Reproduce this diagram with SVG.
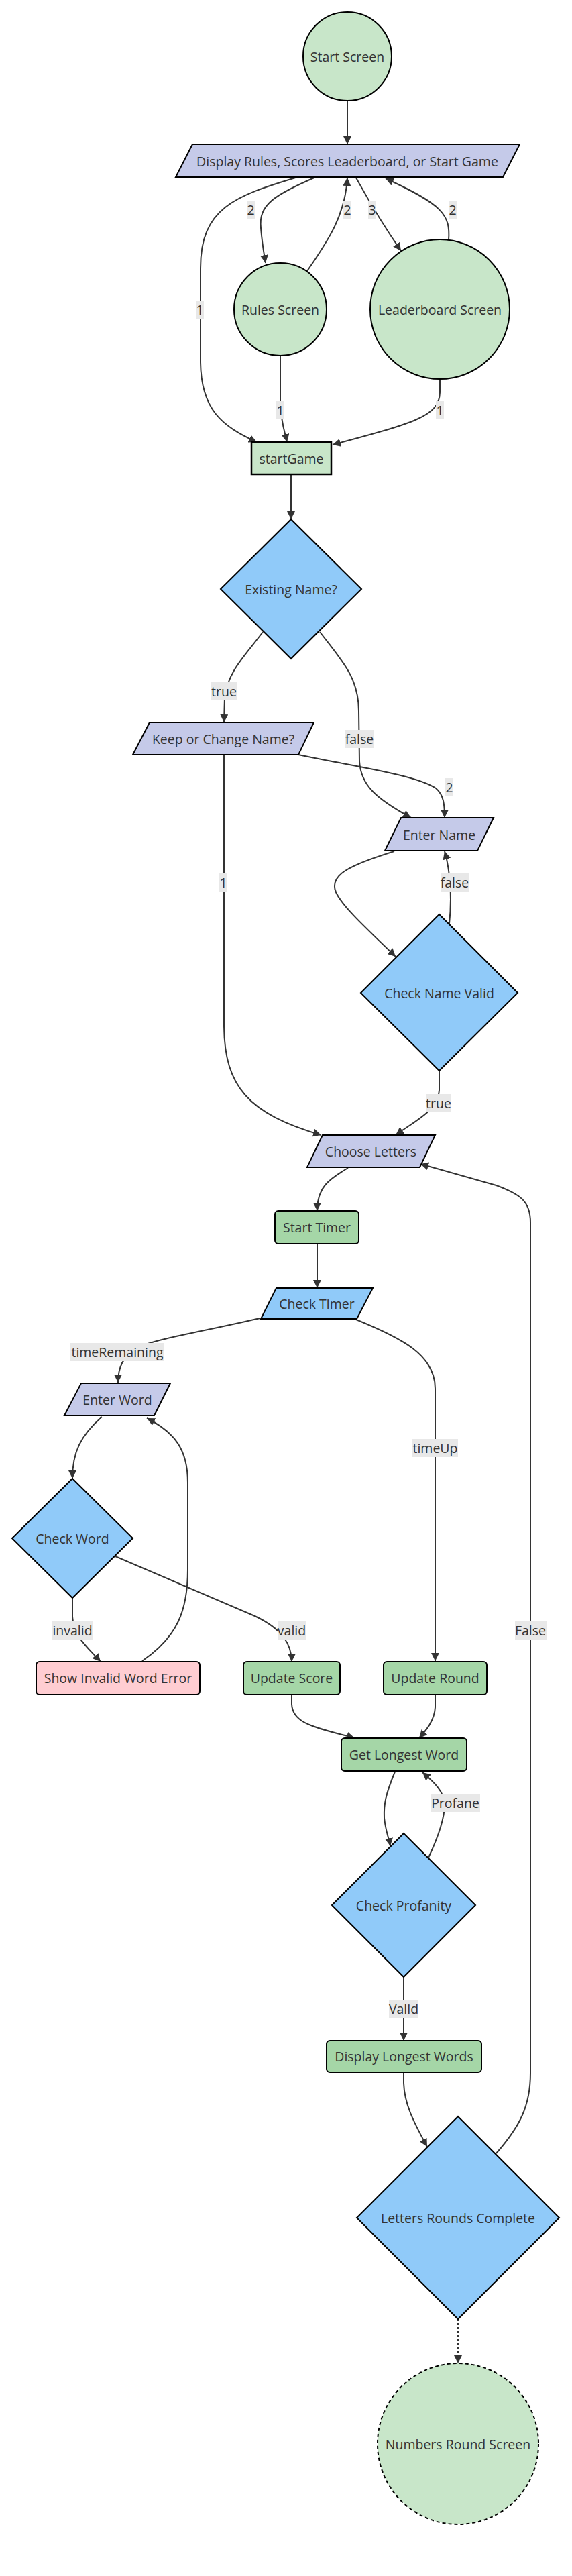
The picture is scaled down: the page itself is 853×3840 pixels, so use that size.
<svg xmlns="http://www.w3.org/2000/svg" width="853" height="3840" viewBox="0 0 853 3840">
<style>
text{font-family:"Open Sans","Noto Sans","Liberation Sans",sans-serif;font-size:19.5px;fill:#333;text-anchor:middle;dominant-baseline:central}
.e{fill:none;stroke:#333;stroke-width:2;marker-end:url(#arr)}
.dot{stroke-dasharray:3 3}
.lb{fill:#e8e8e8}
.n{stroke:#000;stroke-width:2}
.circ{fill:#C8E6C9}
.io{fill:#C5CAE9}
.dec{fill:#90CAF9}
.proc{fill:#A5D6A7}
.err{fill:#FFCDD2}
</style>
<defs>
<marker id="arr" viewBox="0 0 10 10" refX="10" refY="5" markerUnits="userSpaceOnUse" markerWidth="12" markerHeight="12" orient="auto">
<path d="M0,0 L10,5 L0,10 z" fill="#333"/>
</marker>
</defs>
<rect width="853" height="3840" fill="#fff"/>
<g id="connectors">
<path class="e" d="M518,150 L518,215"/>
<path class="e" d="M444,264 C350,292 299,310 299,400 L299,540 C300,610 330,635 383,659"/>
<path class="e" d="M471,264 C410,290 385,305 389,340 C391,365 394,380 396,392"/>
<path class="e" d="M458,404 C490,358 515,320 518,265"/>
<path class="e" d="M531,265 C545,290 562,322 598,374"/>
<path class="e" d="M669,358 C672,320 660,305 575,266"/>
<path class="e" d="M418,530 L418,600 C419,630 425,645 428,659"/>
<path class="e" d="M656,566 L656,585 C655,620 620,630 496,663"/>
<path class="e" d="M434,707 L434,774"/>
<path class="e" d="M392,942 C365,978 340,1000 335,1040 L334,1077"/>
<path class="e" d="M477,942 C510,985 535,1010 535,1060 L536,1135 C538,1170 560,1190 613,1219"/>
<path class="e" d="M445,1125 C530,1143 620,1155 650,1175 C662,1185 663,1200 663,1219"/>
<path class="e" d="M334,1125 L334,1530 C335,1620 370,1660 479,1692"/>
<path class="e" d="M588,1269 C520,1290 490,1305 501,1330 C510,1350 540,1378 590,1426"/>
<path class="e" d="M670,1377 C674,1340 672,1300 663,1269"/>
<path class="e" d="M655,1596 L655,1625 C654,1655 620,1670 590,1692"/>
<path class="e" d="M519,1741 C490,1758 473,1770 473,1805"/>
<path class="e" d="M473,1854 L473,1920"/>
<path class="e" d="M388,1965 C300,1985 240,1995 215,2005 C185,2018 176,2035 176,2061"/>
<path class="e" d="M531,1967 C600,1995 649,2020 649,2070 L649,2476"/>
<path class="e" d="M152,2112 C120,2140 108,2165 108,2204"/>
<path class="e" d="M108,2382 L108,2410 C110,2440 130,2455 150,2477"/>
<path class="e" d="M212,2476 C265,2440 280,2400 280,2340 L280,2210 C280,2160 260,2135 219,2114"/>
<path class="e" d="M172,2320 L380,2409 C420,2428 435,2450 435,2477"/>
<path class="e" d="M435,2526 L435,2540 C436,2570 470,2575 529,2591"/>
<path class="e" d="M649,2526 L649,2545 C648,2565 635,2580 625,2591"/>
<path class="e" d="M589,2641 C575,2675 572,2690 573,2710 C575,2730 580,2740 582,2752"/>
<path class="e" d="M639,2769 C655,2735 663,2710 663,2690 C663,2670 645,2655 630,2642"/>
<path class="e" d="M602,2947 L602,3042"/>
<path class="e" d="M602,3089 L602,3105 C603,3135 615,3160 637,3200"/>
<path class="e" d="M740,3210 C775,3170 791,3140 791,3090 L791,1822 C791,1790 775,1780 740,1767 L627,1735"/>
<path class="e dot" d="M683,3457 L683,3523"/>
<g id="edge-labels">
<rect class="lb" x="368" y="299" width="12" height="27"/><text x="374" y="312">2</text>
<rect class="lb" x="512" y="299" width="12" height="27"/><text x="518" y="312">2</text>
<rect class="lb" x="549" y="299" width="12" height="27"/><text x="555" y="312">3</text>
<rect class="lb" x="669" y="299" width="12" height="27"/><text x="675" y="312">2</text>
<rect class="lb" x="292" y="448" width="12" height="27"/><text x="298" y="461">1</text>
<rect class="lb" x="412" y="598" width="12" height="27"/><text x="418" y="611">1</text>
<rect class="lb" x="650" y="598" width="12" height="27"/><text x="656" y="611">1</text>
<rect class="lb" x="315" y="1017" width="38" height="27"/><text x="334" y="1030">true</text>
<rect class="lb" x="514" y="1088" width="43" height="27"/><text x="536" y="1101">false</text>
<rect class="lb" x="664" y="1160" width="12" height="27"/><text x="670" y="1173">2</text>
<rect class="lb" x="327" y="1302" width="12" height="27"/><text x="333" y="1315">1</text>
<rect class="lb" x="657" y="1302" width="43" height="27"/><text x="678" y="1315">false</text>
<rect class="lb" x="635" y="1631" width="38" height="27"/><text x="654" y="1644">true</text>
<rect class="lb" x="105" y="2002" width="140" height="27"/><text x="175" y="2015">timeRemaining</text>
<rect class="lb" x="615" y="2145" width="68" height="27"/><text x="649" y="2158">timeUp</text>
<rect class="lb" x="78" y="2417" width="60" height="27"/><text x="108" y="2430">invalid</text>
<rect class="lb" x="414" y="2417" width="43" height="27"/><text x="435" y="2430">valid</text>
<rect class="lb" x="643" y="2674" width="73" height="27"/><text x="679" y="2687">Profane</text>
<rect class="lb" x="580" y="2981" width="44" height="27"/><text x="602" y="2994">Valid</text>
<rect class="lb" x="768" y="2417" width="47" height="27"/><text x="791" y="2430">False</text>
</g>
</g>
<g id="start-screen"><circle class="n circ" cx="518" cy="84" r="66"/><text x="518" y="84">Start Screen</text></g>
<g id="display-menu"><polygon class="n io" points="287,215 775,215 750,264 262,264"/><text x="518" y="240">Display Rules, Scores Leaderboard, or Start Game</text></g>
<g id="rules-screen"><circle class="n circ" cx="418" cy="461" r="69"/><text x="418" y="461">Rules Screen</text></g>
<g id="leaderboard-screen"><circle class="n circ" cx="656" cy="461" r="104"/><text x="656" y="461">Leaderboard Screen</text></g>
<g id="start-game"><rect class="n circ" x="375" y="659" width="119" height="48" style="stroke-width:2.5"/><text x="434.5" y="683">startGame</text></g>
<g id="existing-name"><polygon class="n dec" points="434,774 539,878 434,982 329,878"/><text x="434" y="878">Existing Name?</text></g>
<g id="keep-or-change"><polygon class="n io" points="223,1077 468,1077 445,1125 198,1125"/><text x="333" y="1101">Keep or Change Name?</text></g>
<g id="enter-name"><polygon class="n io" points="598,1219 736,1219 712,1268 574,1268"/><text x="655" y="1244">Enter Name</text></g>
<g id="check-name-valid"><polygon class="n dec" points="655,1363 772,1480 655,1596 538,1480"/><text x="655" y="1480">Check Name Valid</text></g>
<g id="choose-letters"><polygon class="n io" points="481,1692 649,1692 626,1740 458,1740"/><text x="553" y="1716">Choose Letters</text></g>
<g id="start-timer"><rect class="n proc" x="410" y="1805" width="125" height="49" rx="5"/><text x="472.5" y="1829.5">Start Timer</text></g>
<g id="check-timer"><polygon class="n dec" points="412,1920 556,1920 532,1966 389,1966"/><text x="472.5" y="1943">Check Timer</text></g>
<g id="enter-word"><polygon class="n io" points="121,2062 254,2062 230,2110 96,2110"/><text x="175" y="2086">Enter Word</text></g>
<g id="check-word"><polygon class="n dec" points="108,2204 198,2293 108,2382 18,2293"/><text x="108" y="2293">Check Word</text></g>
<g id="show-invalid"><rect class="n err" x="54" y="2477" width="244" height="49" rx="5"/><text x="176" y="2501.5">Show Invalid Word Error</text></g>
<g id="update-score"><rect class="n proc" x="363" y="2477" width="144" height="49" rx="5"/><text x="435" y="2501.5">Update Score</text></g>
<g id="update-round"><rect class="n proc" x="572" y="2477" width="154" height="49" rx="5"/><text x="649" y="2501.5">Update Round</text></g>
<g id="get-longest-word"><rect class="n proc" x="509" y="2591" width="187" height="49" rx="5"/><text x="602.5" y="2615.5">Get Longest Word</text></g>
<g id="check-profanity"><polygon class="n dec" points="602,2733 709,2840 602,2947 495,2840"/><text x="602" y="2840">Check Profanity</text></g>
<g id="display-longest-words"><rect class="n proc" x="487" y="3042" width="231" height="47" rx="5"/><text x="602.5" y="3065.5">Display Longest Words</text></g>
<g id="letters-rounds-complete"><polygon class="n dec" points="683,3155 834,3306 683,3457 532,3306"/><text x="683" y="3306">Letters Rounds Complete</text></g>
<g id="numbers-round-screen"><circle class="n circ" cx="683" cy="3643" r="120" style="stroke-dasharray:5 4"/><text x="683" y="3643">Numbers Round Screen</text></g>
</svg>
